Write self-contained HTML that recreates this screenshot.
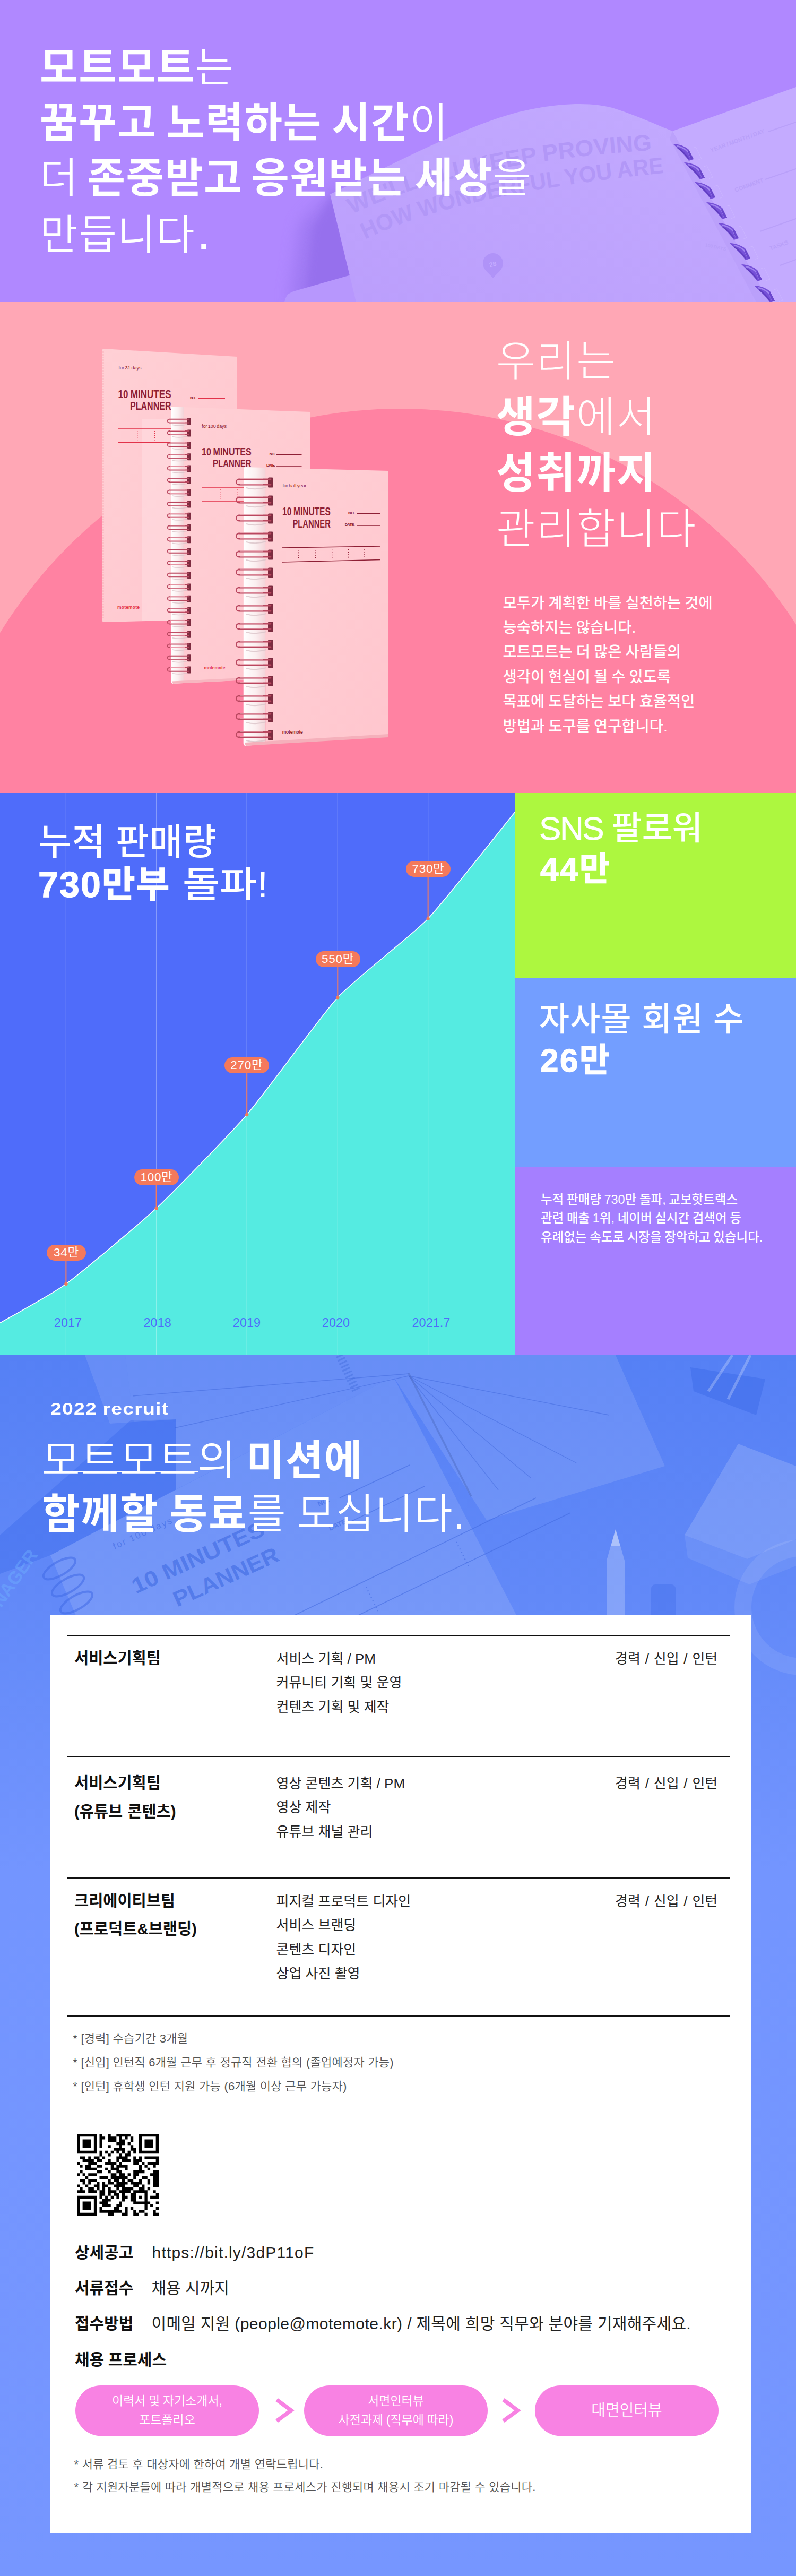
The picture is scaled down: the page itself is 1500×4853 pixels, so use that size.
<!DOCTYPE html>
<html lang="ko">
<head>
<meta charset="utf-8">
<title>모트모트 2022 recruit</title>
<style>
*{box-sizing:border-box;margin:0;padding:0}
html,body{width:1500px;height:4853px;overflow:hidden;background:#7896ff}
body{position:relative;font-family:"Liberation Sans","Noto Sans CJK KR",sans-serif;color:#fff;word-spacing:-0.054em}
.abs{position:absolute}
.sec{position:absolute;left:0;width:1500px;overflow:hidden}
#s1{top:0;height:569px;background:#b088ff}
#s2{top:569px;height:925px;background:#ffa7b5}
#s3{top:1494px;height:1059px;background:#4f6cfa}
#s4{top:2553px;height:2300px;background:linear-gradient(#5580f5,#6289f8 20%,#7395ff 42%,#7696ff)}
.sec svg.bg{position:absolute;left:0;top:0}
b{font-weight:700}
.l{font-weight:300}
.t{position:absolute;white-space:nowrap;line-height:1}
/* section 1 */
.h1{font-size:78px;left:75px;letter-spacing:1.5px;word-spacing:-4.2px}
.h1 .l{font-weight:350}
/* section 2 */
.h2{font-size:80px;left:935px;letter-spacing:2px}
.p2{font-size:28.5px;left:947.5px;font-weight:500}
/* section 3 */
.h3{font-size:68px;left:72px;font-weight:500}
.hv{-webkit-text-stroke:1.3px #fff}
.h3r{font-size:62px;left:1016px;font-weight:500}
.p3{font-size:23.5px;left:1019px;font-weight:500}
.pill{position:absolute;height:30px;border-radius:15px;background:#f4795b;color:#fff;font-size:22.5px;line-height:30px;text-align:center;white-space:nowrap;letter-spacing:.7px}
.yr{position:absolute;width:100px;text-align:center;font-size:23.5px;line-height:28px;color:#4f6cfa;white-space:nowrap}
.rc{font-size:32px;font-weight:700;letter-spacing:1px;transform-origin:0 50%;transform:scaleX(1.17)}
.h4{font-size:78px;left:79px;letter-spacing:1.5px;word-spacing:-4.2px}
.h4 .l{font-weight:350}
.ul{border-bottom:3px solid #fff;padding-bottom:0}
.card{position:absolute;background:#fff}
.rule{position:absolute;left:126px;width:1249px;height:2px;background:#111}
.c1{font-size:29.5px;font-weight:700;color:#111;word-spacing:1px}
.c2{font-size:26px;font-weight:400;color:#222;word-spacing:0}
.nt{font-size:22px;font-weight:350;color:#555;word-spacing:0;letter-spacing:.25px}
.lb{font-size:30px;font-weight:700;color:#111}
.vl{font-size:30px;font-weight:400;color:#222;word-spacing:0}
.pp{position:absolute;width:346px;height:95px;border-radius:48px;background:#f882e3;color:#fff;font-size:23px;font-weight:350;line-height:35.5px;text-align:center;display:flex;align-items:center;justify-content:center}
.pp.big{font-size:29px}
</style>
</head>
<body>
<!-- ============ SECTION 1 ============ -->
<div class="sec" id="s1">
<!--S1BG-->
<svg class="bg" width="1500" height="569" viewBox="0 0 1500 569">
<defs>
<linearGradient id="s1pg" x1="0" y1="1" x2="1" y2="0"><stop offset="0" stop-color="#bb9efc"/><stop offset="1" stop-color="#c3abff"/></linearGradient>
<linearGradient id="s1sh" x1="0" y1="0" x2="1" y2="0"><stop offset="0" stop-color="#9a74ef" stop-opacity="0"/><stop offset="1" stop-color="#9a74ef" stop-opacity=".95"/></linearGradient>
<filter id="s1bl2" x="-20%" y="-20%" width="140%" height="140%"><feGaussianBlur stdDeviation="7"/></filter>
<filter id="s1bl" x="-20%" y="-20%" width="140%" height="140%"><feGaussianBlur stdDeviation="14"/></filter>
<g id="ring"><path d="M-20 -16 C-9 -16 4 -11 10 -5 L19 13 L10 16 C4 7 -8 -5 -20 -16Z" fill="#7650d8"/><path d="M-12 -12 C-3 -10 5 -5 9 0 L14 11" stroke="#a285f0" stroke-width="2.4" fill="none"/><path d="M-11 -8.5 C-3 -3 4 4 10 12.5" stroke="#5f3dbe" stroke-width="2.2" fill="none"/><path d="M10 -5 L19 13 L14 13 L8 -1Z" fill="#6a46cc"/><path d="M17 -8 L23 -10 L34 12 L27 14.5" stroke="#cdb8ff" stroke-width="1" fill="none" opacity=".8"/></g>
</defs>
<!-- shadow left of book -->
<path d="M545 569 L565 420 L640 345 L700 569Z" fill="#9a74ef" filter="url(#s1bl)" opacity=".75"/>
<path d="M575 569 L590 430 L630 362 L690 569Z" fill="#946eec" filter="url(#s1bl2)" opacity=".8"/>
<!-- lower pages strip -->
<path d="M536 569 L538 562 Q541 552 556 548 L668 516 L682 569Z" fill="#b797fd"/>
<!-- left page -->
<path d="M622 366 C760 300 900 225 1000 206 C1060 194 1120 192 1160 205 C1200 218 1240 236 1267 247 L1450 569 L671 569Z" fill="url(#s1pg)"/>
<!-- right page -->
<path d="M1267 247 L1500 164 L1500 569 L1450 569Z" fill="#c4abff"/>
<path d="M1267 247 L1450 569 L1425 569 L1262 262Z" fill="#b79cf8" opacity=".6"/>
<!-- printed lines on right page -->
<g stroke="#b9a0f9" stroke-width="2" fill="none"><path d="M1448 248 L1500 230"/><path d="M1442 338 L1500 318"/><path d="M1432 436 L1500 412"/><path d="M1470 500 L1500 489"/></g>
<g font-family="Liberation Sans, sans-serif" font-weight="700" fill="#b9a0f9" font-size="11">
<text transform="translate(1340 287) rotate(-20)">YEAR / MONTH / DAY</text>
<text transform="translate(1386 362) rotate(-20)">COMMENT</text>
<text transform="translate(1452 472) rotate(-20)">TASKS</text>
<text transform="translate(1328 464) rotate(12)" font-size="9">100 DAYS</text>
</g>
<!-- printed slogan -->
<path id="sl1" d="M663 404 Q856 307.6 1228 283" fill="none"/><path id="sl2" d="M688 451 Q860 365 1251 326" fill="none"/>
<g font-family="Liberation Sans, sans-serif" font-weight="700" fill="#b297f7" font-size="43">
<text><textPath href="#sl1" textLength="582" lengthAdjust="spacingAndGlyphs">WE'LL ALL KEEP PROVING</textPath></text>
<text><textPath href="#sl2" textLength="580" lengthAdjust="spacingAndGlyphs">HOW WONDERFUL YOU ARE</textPath></text>
</g>
<!-- pin -->
<g transform="translate(929 500)"><path d="M0 24 C-8 14 -19 8 -19 -4 A19 19 0 1 1 19 -4 C19 8 8 14 0 24Z" fill="#b093f8"/><text x="0" y="2" text-anchor="middle" font-family="Liberation Sans, sans-serif" font-weight="700" font-size="12" fill="#c4abff" transform="rotate(-12)">28</text></g>
<!-- rings -->
<use href="#ring" x="1288" y="287"/><use href="#ring" x="1309" y="322"/><use href="#ring" x="1329" y="359"/><use href="#ring" x="1351" y="397"/><use href="#ring" x="1373" y="436"/><use href="#ring" x="1395" y="474"/><use href="#ring" x="1417" y="514"/><use href="#ring" x="1441" y="554"/>
</svg>

<!--/S1BG-->
<div class="t h1" style="top:89px"><b style="border-bottom:0">모트모트</b><span class="l">는</span></div>
<div class="t h1" style="top:193px"><b>꿈꾸고 노력하는 시간</b><span class="l">이</span></div>
<div class="t h1" style="top:297px;word-spacing:-7.3px"><span class="l">더 </span><b>존중받고 응원받는 세상</b><span class="l">을</span></div>
<div class="t h1" style="top:404px"><span class="l">만듭니다<span style="font-size:1.3em;line-height:0;margin-left:2px">.</span></span></div>
</div>

<!-- ============ SECTION 2 ============ -->
<div class="sec" id="s2">
<!--S2BG-->
<svg class="bg" width="1500" height="925" viewBox="0 0 1500 925">
<defs>
<linearGradient id="cv" x1="0" y1="0" x2="1" y2="1"><stop offset="0" stop-color="#ffd0d5"/><stop offset="1" stop-color="#ffc6ce"/></linearGradient>
<linearGradient id="wh" x1="0" y1="0" x2="1" y2="0"><stop offset="0" stop-color="#fff"/><stop offset=".55" stop-color="#fbeff0"/><stop offset="1" stop-color="#f3d3d8"/></linearGradient>
<g id="rg2"><rect x="37" y="-6.5" width="6.5" height="13" rx="1" fill="#7d2c40"/><path d="M3 -4 H40 M3 2.6 H40" stroke="#b9475f" stroke-width="2" stroke-linecap="round" fill="none"/><path d="M3 -4 A3.3 3.3 0 0 0 3 2.6" stroke="#b9475f" stroke-width="1.6" fill="none"/><path d="M5 -4.6 H32 M5 2 H32" stroke="#f6b3bf" stroke-width=".8" fill="none"/><path d="M8 6.5 Q22 9.5 36 6" stroke="#d9c3c8" stroke-width="1.5" fill="none" opacity=".8"/></g>
<g id="rg3"><rect x="59" y="-9.5" width="9.5" height="19" rx="1.5" fill="#7d2c40"/><path d="M4 -6 H64 M4 4 H64" stroke="#b9475f" stroke-width="2.8" stroke-linecap="round" fill="none"/><path d="M4 -6 A5 5 0 0 0 4 4" stroke="#b9475f" stroke-width="2.2" fill="none"/><path d="M7 -7 H50 M7 3 H50" stroke="#f8bcc7" stroke-width="1" fill="none"/><path d="M18 10 Q36 15 56 9" stroke="#d9c3c8" stroke-width="2" fill="none" opacity=".8"/></g>
</defs>
<circle cx="755" cy="1087" r="886" fill="#ff82a2"/>
<path d="M194.6 88 L447 103 L447 597 L196 603 Q192.6 603 192.6 599 L192.6 90 Z" fill="url(#cv)"/>
<path d="M194.5 93 V597" stroke="#e2324a" stroke-width="1.2" stroke-dasharray="3 2" fill="none"/>
<rect x="268" y="221" width="60" height="380" fill="#ffdfe3" opacity=".5"/>
<g fill="#8e1f35" font-family="Liberation Sans, sans-serif" font-weight="700">
<text x="223.5" y="126.5" font-size="9" font-weight="400" textLength="43">for 31 days</text>
<text x="222.6" y="181" font-size="22" textLength="100" lengthAdjust="spacingAndGlyphs">10 MINUTES</text>
<text x="245" y="202.5" font-size="22" textLength="77.6" lengthAdjust="spacingAndGlyphs">PLANNER</text>
<text x="358" y="182.5" font-size="7.5" textLength="11">NO.</text>
<text x="221" y="578" font-size="8.5" fill="#e2324a" textLength="42">motemote</text>
</g>
<g stroke="#e2324a" stroke-width="1.3" fill="none"><path d="M373 181.5 H424"/><path d="M222.6 239 H330 M222.6 264.5 H330"/><path d="M258.7 243 V261 M291.5 243 V261" stroke-dasharray="1.5 2.5"/></g>
<path d="M322.6 197 L346 198 L346 718 L326 719 Q322.6 719 322.6 715 Z" fill="url(#wh)"/>
<path d="M346 198 L584 207 L584 706 L346 718 Z" fill="url(#cv)"/>
<path d="M326 719 L584 706 L584 702 L324 714.5 Z" fill="#f7b6c0"/>
<g fill="#8e1f35" font-family="Liberation Sans, sans-serif" font-weight="700">
<text x="380" y="237" font-size="9" font-weight="400" textLength="47">for 100 days</text>
<text x="380" y="289" font-size="21" textLength="93.6" lengthAdjust="spacingAndGlyphs">10 MINUTES</text>
<text x="401" y="311" font-size="21" textLength="72.6" lengthAdjust="spacingAndGlyphs">PLANNER</text>
<text x="507.5" y="288.5" font-size="7.5" textLength="11">NO.</text>
<text x="502" y="310" font-size="7.5" textLength="16.5">DATE.</text>
<text x="384.5" y="691.5" font-size="8.5" fill="#e2324a" textLength="40">motemote</text>
</g>
<g stroke="#8e1f35" stroke-width="1.4" fill="none"><path d="M521 287.5 H568.5 M521 309 H568.5"/></g>
<g stroke="#e2324a" stroke-width="1.3" fill="none"><path d="M380 349 H470 M380 376 H470"/><path d="M415 353 V372 M447 353 V372" stroke-dasharray="1.5 2.5"/></g>
<use href="#rg2" x="316" y="224.8"/>
<use href="#rg2" x="316" y="247.1"/>
<use href="#rg2" x="316" y="269.4"/>
<use href="#rg2" x="316" y="291.7"/>
<use href="#rg2" x="316" y="314.0"/>
<use href="#rg2" x="316" y="336.3"/>
<use href="#rg2" x="316" y="358.6"/>
<use href="#rg2" x="316" y="380.9"/>
<use href="#rg2" x="316" y="403.2"/>
<use href="#rg2" x="316" y="425.5"/>
<use href="#rg2" x="316" y="447.8"/>
<use href="#rg2" x="316" y="470.1"/>
<use href="#rg2" x="316" y="492.4"/>
<use href="#rg2" x="316" y="514.7"/>
<use href="#rg2" x="316" y="537.0"/>
<use href="#rg2" x="316" y="559.3"/>
<use href="#rg2" x="316" y="581.6"/>
<use href="#rg2" x="316" y="603.9"/>
<use href="#rg2" x="316" y="626.2"/>
<use href="#rg2" x="316" y="648.5"/>
<use href="#rg2" x="316" y="670.8"/>
<use href="#rg2" x="316" y="693.1"/>
<path d="M461 311 L500.5 312 L500.5 833 L463 836 Q458.7 836 458.7 831 L459 313 Z" fill="url(#wh)"/>
<path d="M500.5 312 L731.8 318 L731.5 815 L500.5 829 Z" fill="url(#cv)"/>
<path d="M463 836 L731.5 820 L731.5 814 L461 830 Z" fill="#f5b0bb"/>
<g fill="#8e1f35" font-family="Liberation Sans, sans-serif" font-weight="700">
<text x="532.4" y="349" font-size="9.5" font-weight="400" textLength="45">for half year</text>
<text x="532" y="401.7" font-size="21.4" textLength="90.8" lengthAdjust="spacingAndGlyphs">10 MINUTES</text>
<text x="551.5" y="424.5" font-size="21.4" textLength="71.3" lengthAdjust="spacingAndGlyphs">PLANNER</text>
<text x="656" y="399.8" font-size="7.5" textLength="13">NO.</text>
<text x="649.7" y="422.2" font-size="7.5" textLength="19">DATE.</text>
<text x="531.8" y="812.5" font-size="8.5" textLength="39">motemote</text>
</g>
<g stroke="#8e1f35" stroke-width="1.4" fill="none"><path d="M672.5 398.8 H717 M672.5 421 H717"/><path d="M531.6 463 L717 460 M531.6 490 L717 485.5"/>
<path d="M562.7 467 V485 M594.6 467 V484.5 M625.7 466.5 V484 M656.4 466 V483.5 M687 465.5 V483" stroke-dasharray="1.6 3"/></g>
<use href="#rg3" x="446" y="340"/>
<use href="#rg3" x="446" y="374"/>
<use href="#rg3" x="446" y="408"/>
<use href="#rg3" x="446" y="442"/>
<use href="#rg3" x="446" y="476"/>
<use href="#rg3" x="446" y="510"/>
<use href="#rg3" x="446" y="544"/>
<use href="#rg3" x="446" y="578"/>
<use href="#rg3" x="446" y="612"/>
<use href="#rg3" x="446" y="646"/>
<use href="#rg3" x="446" y="680"/>
<use href="#rg3" x="446" y="714"/>
<use href="#rg3" x="446" y="748"/>
<use href="#rg3" x="446" y="782"/>
<use href="#rg3" x="446" y="816"/>
</svg>
<!--/S2BG-->
<div class="t h2 l" style="top:71.5px">우리는</div>
<div class="t h2" style="top:176.5px"><b>생각</b><span class="l">에서</span></div>
<div class="t h2" style="top:283px"><b>성취까지</b></div>
<div class="t h2 l" style="top:387.7px">관리합니다</div>
<div class="t p2" style="top:552.5px">모두가 계획한 바를 실천하는 것에</div>
<div class="t p2" style="top:598.9px">능숙하지는 않습니다.</div>
<div class="t p2" style="top:645.3px">모트모트는 더 많은 사람들의</div>
<div class="t p2" style="top:691.7px">생각이 현실이 될 수 있도록</div>
<div class="t p2" style="top:738.1px">목표에 도달하는 보다 효율적인</div>
<div class="t p2" style="top:784.5px">방법과 도구를 연구합니다.</div>
</div>

<!-- ============ SECTION 3 ============ -->
<div class="sec" id="s3">
<!--S3BG-->
<svg class="bg" width="1500" height="1059" viewBox="0 0 1500 1059">
<path d="M0.0 998.3 C11.2 991.7 97.9 944.2 124.4 924.8 C150.9 905.4 263.9 811.0 294.6 782.3 C325.3 753.6 434.4 641.7 465.2 606.0 C496.0 570.3 605.6 418.4 636.3 385.2 C667.0 352.0 776.5 268.1 806.6 236.7 C836.7 205.3 955.5 54.1 970.2 36.0 L970.2 1059 L0 1059 Z" fill="#55ebe1"/>
<path d="M0.0 998.3 C11.2 991.7 97.9 944.2 124.4 924.8 C150.9 905.4 263.9 811.0 294.6 782.3 C325.3 753.6 434.4 641.7 465.2 606.0 C496.0 570.3 605.6 418.4 636.3 385.2 C667.0 352.0 776.5 268.1 806.6 236.7 C836.7 205.3 955.5 54.1 970.2 36.0" fill="none" stroke="#fff" stroke-width="1.6"/>
<rect x="970" y="0" width="530" height="349" fill="#adf73f"/>
<rect x="970" y="349" width="530" height="355" fill="#739eff"/>
<rect x="970" y="704" width="530" height="355" fill="#a57fff"/>
<g stroke="#fff" stroke-opacity=".32" stroke-width="1.2"><path d="M124.4 0V1059"/><path d="M294.6 0V1059"/><path d="M465.2 0V1059"/><path d="M636.3 0V1059"/><path d="M806.6 0V1059"/></g>
<g stroke="#f4795b" stroke-width="2" fill="#f4795b">
<path d="M124.4 876.0V924.8"/><circle cx="124.4" cy="924.8" r="3.2" stroke="none"/>
<path d="M294.6 733.5V782.3"/><circle cx="294.6" cy="782.3" r="3.2" stroke="none"/>
<path d="M465.2 522.5V606.0"/><circle cx="465.2" cy="606.0" r="3.2" stroke="none"/>
<path d="M636.3 322.8V385.2"/><circle cx="636.3" cy="385.2" r="3.2" stroke="none"/>
<path d="M806.6 153.0V236.7"/><circle cx="806.6" cy="236.7" r="3.2" stroke="none"/>
</g>
</svg>
<div class="pill" style="left:88.0px;top:851.0px;width:74px">34만</div>
<div class="pill" style="left:253.0px;top:708.5px;width:84px">100만</div>
<div class="pill" style="left:422.8px;top:497.5px;width:84px">270만</div>
<div class="pill" style="left:594.6px;top:297.8px;width:84px">550만</div>
<div class="pill" style="left:765.0px;top:128.0px;width:84px">730만</div>
<div class="yr" style="left:78.0px;top:984px">2017</div>
<div class="yr" style="left:246.7px;top:984px">2018</div>
<div class="yr" style="left:415.0px;top:984px">2019</div>
<div class="yr" style="left:583.0px;top:984px">2020</div>
<div class="yr" style="left:762.5px;top:984px">2021.7</div>
<!--/S3BG-->
<div class="t h3" style="top:58px;letter-spacing:1px">누적 판매량</div>
<div class="t h3" style="top:138px;word-spacing:4px"><b class="hv" style="letter-spacing:2.2px">730만부</b> <span style="display:inline-block;transform:scaleX(1.12);transform-origin:0 50%">돌파!</span></div>
<div class="t h3r" style="top:36px"><span style="letter-spacing:-2.4px;-webkit-text-stroke:.7px #fff">SNS</span> 팔로워</div>
<div class="t h3r" style="top:113px;left:1018px"><b class="hv" style="letter-spacing:2.5px">44만</b></div>
<div class="t h3r" style="top:396px;letter-spacing:1.2px;word-spacing:0px">자사몰 회원 수</div>
<div class="t h3r" style="top:473px;left:1018px"><b class="hv" style="letter-spacing:2.5px">26만</b></div>
<div class="t p3" style="top:754.5px">누적 판매량 730만 돌파, 교보핫트랙스</div>
<div class="t p3" style="top:790px">관련 매출 1위, 네이버 실시간 검색어 등</div>
<div class="t p3" style="top:825.5px">유례없는 속도로 시장을 장악하고 있습니다.</div>
</div>

<!-- ============ SECTION 4 ============ -->
<div class="sec" id="s4">
<!--S4BG-->
<svg class="bg" width="1500" height="2300" viewBox="0 0 1500 2300">
<defs><filter id="b4" x="-10%" y="-10%" width="120%" height="120%"><feGaussianBlur stdDeviation="2"/></filter></defs>
<polygon points="160,0 236,0 252,126 207,129" fill="#fff" opacity=".10"/>
<polygon points="246,123 332,121 332,253 95,377 0,412 0,339" fill="#2f5fe8" opacity=".30"/>
<polygon points="95,377 741,40 982,507 150,507" fill="#fff" opacity=".12"/>
<polygon points="236,0 1160,0 1253,209 917,311 741,40 332,253 332,121 252,126" fill="#fff" opacity=".11"/>
<g stroke="#3a62d8" stroke-opacity=".45" stroke-width="1.3" fill="none">
<path d="M770 39L1148 113"/>
<path d="M770 39L1086 203"/>
<path d="M770 39L1001 232"/>
<path d="M770 39L939 254"/>
<path d="M770 39L330 137"/>
<path d="M770 35L250 77"/>
</g>
<path d="M770 34 L888 266" stroke="#5070c8" stroke-opacity=".55" stroke-width="3.5"/>
<path d="M640 0 L672 69" stroke="#456fe0" stroke-opacity=".5" stroke-width="16" stroke-dasharray="3 4"/>
<g stroke="#3f68de" stroke-opacity=".55" stroke-width="1.6" fill="none">
<path d="M640 269L772 207"/>
<path d="M662 313L800 247"/>
<path d="M520 507L1010 269"/>
<path d="M640 507L1075 297"/>
<path d="M690 437L712 482 M860 352L885 402" stroke-dasharray="2 5" stroke-width="2.4"/>
</g>
<g font-family="Liberation Sans, sans-serif" font-weight="700" fill="#3e69e2" fill-opacity=".62">
<text transform="translate(256 450) rotate(-24.5)" font-size="41" textLength="270" lengthAdjust="spacingAndGlyphs">10 MINUTES</text>
<text transform="translate(334 475) rotate(-24.5)" font-size="41" textLength="214" lengthAdjust="spacingAndGlyphs">PLANNER</text>
<text transform="translate(216 366) rotate(-24.5)" font-size="17" font-weight="400" textLength="120">for 100 days</text>
<text transform="translate(601 285) rotate(-24.5)" font-size="13">NO.</text>
<text transform="translate(622 331) rotate(-24.5)" font-size="13">DATE.</text>
</g>
<g stroke="#3f6ae6" stroke-opacity=".55" stroke-width="4" fill="none">
<ellipse cx="112" cy="402" rx="34" ry="13" transform="rotate(-30 112 402)"/>
<ellipse cx="128" cy="434" rx="34" ry="13" transform="rotate(-30 128 434)"/>
<ellipse cx="144" cy="466" rx="34" ry="13" transform="rotate(-30 144 466)"/>
</g>
<text transform="translate(2 477) rotate(-55)" font-family="Liberation Sans, sans-serif" font-weight="700" font-size="34" fill="#6fb0ff" fill-opacity=".45">NAGER</text>
<polygon points="1301,23 1442,45 1425,113 1307,68" fill="#3464e6" opacity=".38"/>
<path d="M1335 68L1380 0 M1372 83L1414 0" stroke="#fff" stroke-opacity=".25" stroke-width="5" fill="none"/>
<polygon points="1391,167 1500,209 1500,347 1408,384 1290,339" fill="#fff" opacity=".16"/>
<polygon points="1290,339 1408,384 1500,347 1500,397 1412,432 1296,382" fill="#fff" opacity=".08"/>
<polygon points="1160,328 1177,387 1177,497 1143,497 1143,387" fill="#fff" opacity=".22"/>
<polygon points="1160,328 1169,360 1151,360" fill="#fff" opacity=".35"/>
<rect x="1227" y="432" width="46" height="70" rx="8" fill="#3464e6" opacity=".30"/>
<circle cx="1512" cy="475" r="112" fill="none" stroke="#fff" stroke-opacity=".09" stroke-width="32"/>
</svg>
<!--/S4BG-->
<!--S4TEXT-->
<div class="t rc" style="left:95px;top:85.0px">2022 recruit</div>
<div class="t h4" style="top:160.0px"><span class="l">모트모트의 </span><b>미션에</b></div>
<div class="abs" style="left:82px;top:218px;width:292px;height:3.4px;background:#fff"></div>
<div class="t h4" style="letter-spacing:1.9px;top:261.0px"><b>함께할 동료</b><span class="l">를 모십니다.</span></div>
<div class="card" style="left:94px;top:490px;width:1322px;height:1729px"></div>
<div class="rule" style="top:528.0px"></div>
<div class="rule" style="top:756.0px"></div>
<div class="rule" style="top:983.5px"></div>
<div class="rule" style="top:1243.5px"></div>
<div class="t c1" style="left:140px;top:556.4px;">서비스기획팀</div>
<div class="t c2" style="left:520.5px;top:559.1px;">서비스 기획 / PM</div>
<div class="t c2" style="left:520.5px;top:604.3px;">커뮤니티 기획 및 운영</div>
<div class="t c2" style="left:520.5px;top:649.5px;">컨텐츠 기획 및 제작</div>
<div class="t c2" style="left:1159px;top:559.1px;word-spacing:1.6px">경력 / 신입 / 인턴</div>
<div class="t c1" style="left:140px;top:790.9px;">서비스기획팀</div>
<div class="t c1" style="left:140px;top:845.1px;">(유튜브 콘텐츠)</div>
<div class="t c2" style="left:520.5px;top:794.1px;">영상 콘텐츠 기획 / PM</div>
<div class="t c2" style="left:520.5px;top:839.3px;">영상 제작</div>
<div class="t c2" style="left:520.5px;top:884.5px;">유튜브 채널 관리</div>
<div class="t c2" style="left:1159px;top:794.1px;word-spacing:1.6px">경력 / 신입 / 인턴</div>
<div class="t c1" style="left:140px;top:1013.4px;">크리에이티브팀</div>
<div class="t c1" style="left:140px;top:1066.1px;">(프로덕트&amp;브랜딩)</div>
<div class="t c2" style="left:520.5px;top:1016.1px;">피지컬 프로덕트 디자인</div>
<div class="t c2" style="left:520.5px;top:1061.4px;">서비스 브랜딩</div>
<div class="t c2" style="left:520.5px;top:1106.7px;">콘텐츠 디자인</div>
<div class="t c2" style="left:520.5px;top:1152.0px;">상업 사진 촬영</div>
<div class="t c2" style="left:1159px;top:1016.1px;word-spacing:1.6px">경력 / 신입 / 인턴</div>
<div class="t nt" style="left:137.3px;top:1276.6px;">* [경력] 수습기간 3개월</div>
<div class="t nt" style="left:137.3px;top:1321.9px;">* [신입] 인턴직 6개월 근무 후 정규직 전환 협의 (졸업예정자 가능)</div>
<div class="t nt" style="left:137.3px;top:1367.2px;">* [인턴] 휴학생 인턴 지원 가능 (6개월 이상 근무 가능자)</div>
<svg class="abs" style="left:144.5px;top:1466.5px" width="154" height="154" viewBox="0 0 154 154"><path d="M0.00 0.00h37.17v5.31h-37.17zM42.48 0.00h5.31v5.31h-5.31zM58.41 0.00h5.31v5.31h-5.31zM74.34 0.00h26.55v5.31h-26.55zM116.83 0.00h37.17v5.31h-37.17zM0.00 5.31h5.31v5.31h-5.31zM31.86 5.31h5.31v5.31h-5.31zM42.48 5.31h10.62v5.31h-10.62zM58.41 5.31h15.93v5.31h-15.93zM79.66 5.31h5.31v5.31h-5.31zM90.28 5.31h5.31v5.31h-5.31zM100.90 5.31h5.31v5.31h-5.31zM116.83 5.31h5.31v5.31h-5.31zM148.69 5.31h5.31v5.31h-5.31zM0.00 10.62h5.31v5.31h-5.31zM10.62 10.62h15.93v5.31h-15.93zM31.86 10.62h5.31v5.31h-5.31zM42.48 10.62h5.31v5.31h-5.31zM58.41 10.62h15.93v5.31h-15.93zM79.66 10.62h10.62v5.31h-10.62zM100.90 10.62h5.31v5.31h-5.31zM116.83 10.62h5.31v5.31h-5.31zM127.45 10.62h15.93v5.31h-15.93zM148.69 10.62h5.31v5.31h-5.31zM0.00 15.93h5.31v5.31h-5.31zM10.62 15.93h15.93v5.31h-15.93zM31.86 15.93h5.31v5.31h-5.31zM42.48 15.93h5.31v5.31h-5.31zM74.34 15.93h15.93v5.31h-15.93zM95.59 15.93h5.31v5.31h-5.31zM116.83 15.93h5.31v5.31h-5.31zM127.45 15.93h15.93v5.31h-15.93zM148.69 15.93h5.31v5.31h-5.31zM0.00 21.24h5.31v5.31h-5.31zM10.62 21.24h15.93v5.31h-15.93zM31.86 21.24h5.31v5.31h-5.31zM42.48 21.24h5.31v5.31h-5.31zM58.41 21.24h5.31v5.31h-5.31zM79.66 21.24h5.31v5.31h-5.31zM100.90 21.24h5.31v5.31h-5.31zM116.83 21.24h5.31v5.31h-5.31zM127.45 21.24h15.93v5.31h-15.93zM148.69 21.24h5.31v5.31h-5.31zM0.00 26.55h5.31v5.31h-5.31zM31.86 26.55h5.31v5.31h-5.31zM69.03 26.55h21.24v5.31h-21.24zM100.90 26.55h10.62v5.31h-10.62zM116.83 26.55h5.31v5.31h-5.31zM148.69 26.55h5.31v5.31h-5.31zM0.00 31.86h37.17v5.31h-37.17zM42.48 31.86h5.31v5.31h-5.31zM53.10 31.86h5.31v5.31h-5.31zM63.72 31.86h5.31v5.31h-5.31zM74.34 31.86h5.31v5.31h-5.31zM84.97 31.86h5.31v5.31h-5.31zM95.59 31.86h5.31v5.31h-5.31zM106.21 31.86h5.31v5.31h-5.31zM116.83 31.86h37.17v5.31h-37.17zM42.48 37.17h5.31v5.31h-5.31zM58.41 37.17h5.31v5.31h-5.31zM79.66 37.17h5.31v5.31h-5.31zM90.28 37.17h10.62v5.31h-10.62zM5.31 42.48h10.62v5.31h-10.62zM21.24 42.48h5.31v5.31h-5.31zM31.86 42.48h10.62v5.31h-10.62zM47.79 42.48h5.31v5.31h-5.31zM74.34 42.48h21.24v5.31h-21.24zM106.21 42.48h5.31v5.31h-5.31zM116.83 42.48h5.31v5.31h-5.31zM127.45 42.48h26.55v5.31h-26.55zM10.62 47.79h21.24v5.31h-21.24zM37.17 47.79h10.62v5.31h-10.62zM58.41 47.79h5.31v5.31h-5.31zM74.34 47.79h5.31v5.31h-5.31zM84.97 47.79h15.93v5.31h-15.93zM106.21 47.79h15.93v5.31h-15.93zM148.69 47.79h5.31v5.31h-5.31zM0.00 53.10h5.31v5.31h-5.31zM21.24 53.10h15.93v5.31h-15.93zM53.10 53.10h21.24v5.31h-21.24zM79.66 53.10h5.31v5.31h-5.31zM106.21 53.10h10.62v5.31h-10.62zM122.14 53.10h5.31v5.31h-5.31zM132.76 53.10h21.24v5.31h-21.24zM5.31 58.41h5.31v5.31h-5.31zM15.93 58.41h10.62v5.31h-10.62zM37.17 58.41h10.62v5.31h-10.62zM63.72 58.41h5.31v5.31h-5.31zM74.34 58.41h21.24v5.31h-21.24zM116.83 58.41h5.31v5.31h-5.31zM127.45 58.41h5.31v5.31h-5.31zM143.38 58.41h5.31v5.31h-5.31zM15.93 63.72h21.24v5.31h-21.24zM53.10 63.72h5.31v5.31h-5.31zM63.72 63.72h15.93v5.31h-15.93zM90.28 63.72h5.31v5.31h-5.31zM116.83 63.72h5.31v5.31h-5.31zM132.76 63.72h5.31v5.31h-5.31zM5.31 69.03h5.31v5.31h-5.31zM37.17 69.03h10.62v5.31h-10.62zM58.41 69.03h5.31v5.31h-5.31zM74.34 69.03h10.62v5.31h-10.62zM106.21 69.03h21.24v5.31h-21.24zM143.38 69.03h10.62v5.31h-10.62zM0.00 74.34h5.31v5.31h-5.31zM10.62 74.34h5.31v5.31h-5.31zM21.24 74.34h15.93v5.31h-15.93zM63.72 74.34h10.62v5.31h-10.62zM79.66 74.34h10.62v5.31h-10.62zM95.59 74.34h5.31v5.31h-5.31zM106.21 74.34h10.62v5.31h-10.62zM138.07 74.34h15.93v5.31h-15.93zM15.93 79.66h5.31v5.31h-5.31zM42.48 79.66h15.93v5.31h-15.93zM63.72 79.66h31.86v5.31h-31.86zM106.21 79.66h5.31v5.31h-5.31zM122.14 79.66h10.62v5.31h-10.62zM143.38 79.66h10.62v5.31h-10.62zM5.31 84.97h10.62v5.31h-10.62zM21.24 84.97h15.93v5.31h-15.93zM58.41 84.97h5.31v5.31h-5.31zM69.03 84.97h10.62v5.31h-10.62zM84.97 84.97h5.31v5.31h-5.31zM95.59 84.97h10.62v5.31h-10.62zM116.83 84.97h5.31v5.31h-5.31zM132.76 84.97h5.31v5.31h-5.31zM143.38 84.97h10.62v5.31h-10.62zM10.62 90.28h5.31v5.31h-5.31zM21.24 90.28h5.31v5.31h-5.31zM37.17 90.28h5.31v5.31h-5.31zM47.79 90.28h5.31v5.31h-5.31zM58.41 90.28h10.62v5.31h-10.62zM74.34 90.28h21.24v5.31h-21.24zM100.90 90.28h21.24v5.31h-21.24zM132.76 90.28h5.31v5.31h-5.31zM143.38 90.28h10.62v5.31h-10.62zM0.00 95.59h5.31v5.31h-5.31zM15.93 95.59h5.31v5.31h-5.31zM31.86 95.59h10.62v5.31h-10.62zM47.79 95.59h10.62v5.31h-10.62zM69.03 95.59h21.24v5.31h-21.24zM106.21 95.59h10.62v5.31h-10.62zM122.14 95.59h5.31v5.31h-5.31zM143.38 95.59h10.62v5.31h-10.62zM5.31 100.90h5.31v5.31h-5.31zM21.24 100.90h10.62v5.31h-10.62zM37.17 100.90h5.31v5.31h-5.31zM47.79 100.90h5.31v5.31h-5.31zM58.41 100.90h5.31v5.31h-5.31zM74.34 100.90h5.31v5.31h-5.31zM84.97 100.90h21.24v5.31h-21.24zM116.83 100.90h10.62v5.31h-10.62zM132.76 100.90h5.31v5.31h-5.31zM0.00 106.21h15.93v5.31h-15.93zM21.24 106.21h15.93v5.31h-15.93zM42.48 106.21h10.62v5.31h-10.62zM58.41 106.21h15.93v5.31h-15.93zM79.66 106.21h21.24v5.31h-21.24zM106.21 106.21h26.55v5.31h-26.55zM143.38 106.21h5.31v5.31h-5.31zM42.48 111.52h10.62v5.31h-10.62zM58.41 111.52h5.31v5.31h-5.31zM69.03 111.52h10.62v5.31h-10.62zM84.97 111.52h5.31v5.31h-5.31zM100.90 111.52h10.62v5.31h-10.62zM127.45 111.52h5.31v5.31h-5.31zM148.69 111.52h5.31v5.31h-5.31zM0.00 116.83h37.17v5.31h-37.17zM42.48 116.83h5.31v5.31h-5.31zM53.10 116.83h5.31v5.31h-5.31zM63.72 116.83h5.31v5.31h-5.31zM74.34 116.83h5.31v5.31h-5.31zM84.97 116.83h10.62v5.31h-10.62zM100.90 116.83h10.62v5.31h-10.62zM116.83 116.83h5.31v5.31h-5.31zM127.45 116.83h5.31v5.31h-5.31zM138.07 116.83h15.93v5.31h-15.93zM0.00 122.14h5.31v5.31h-5.31zM31.86 122.14h5.31v5.31h-5.31zM47.79 122.14h15.93v5.31h-15.93zM84.97 122.14h5.31v5.31h-5.31zM100.90 122.14h10.62v5.31h-10.62zM127.45 122.14h5.31v5.31h-5.31zM0.00 127.45h5.31v5.31h-5.31zM10.62 127.45h15.93v5.31h-15.93zM31.86 127.45h5.31v5.31h-5.31zM42.48 127.45h15.93v5.31h-15.93zM79.66 127.45h5.31v5.31h-5.31zM106.21 127.45h31.86v5.31h-31.86zM148.69 127.45h5.31v5.31h-5.31zM0.00 132.76h5.31v5.31h-5.31zM10.62 132.76h15.93v5.31h-15.93zM31.86 132.76h5.31v5.31h-5.31zM47.79 132.76h15.93v5.31h-15.93zM74.34 132.76h10.62v5.31h-10.62zM127.45 132.76h5.31v5.31h-5.31zM138.07 132.76h5.31v5.31h-5.31zM0.00 138.07h5.31v5.31h-5.31zM10.62 138.07h15.93v5.31h-15.93zM31.86 138.07h5.31v5.31h-5.31zM42.48 138.07h5.31v5.31h-5.31zM69.03 138.07h10.62v5.31h-10.62zM90.28 138.07h5.31v5.31h-5.31zM100.90 138.07h5.31v5.31h-5.31zM127.45 138.07h5.31v5.31h-5.31zM148.69 138.07h5.31v5.31h-5.31zM0.00 143.38h5.31v5.31h-5.31zM31.86 143.38h5.31v5.31h-5.31zM42.48 143.38h42.48v5.31h-42.48zM90.28 143.38h5.31v5.31h-5.31zM106.21 143.38h5.31v5.31h-5.31zM116.83 143.38h10.62v5.31h-10.62zM143.38 143.38h5.31v5.31h-5.31zM0.00 148.69h37.17v5.31h-37.17zM58.41 148.69h10.62v5.31h-10.62zM84.97 148.69h10.62v5.31h-10.62zM106.21 148.69h10.62v5.31h-10.62zM127.45 148.69h5.31v5.31h-5.31zM143.38 148.69h10.62v5.31h-10.62z" fill="#000"/></svg>
<div class="t lb" style="left:141px;top:1675.5px;">상세공고</div>
<div class="t vl" style="left:286.5px;top:1675.5px;letter-spacing:1.2px">https://bit.ly/3dP11oF</div>
<div class="t lb" style="left:141px;top:1742.9px;">서류접수</div>
<div class="t vl" style="left:285.5px;top:1742.7px;">채용 시까지</div>
<div class="t lb" style="left:141px;top:1809.9px;">접수방법</div>
<div class="t vl" style="left:285.5px;top:1809.7px;letter-spacing:.3px">이메일 지원 <span style="letter-spacing:.45px">(people@motemote.kr)</span> / 제목에 희망 직무와 분야를 기재해주세요.</div>
<div class="t lb" style="left:141px;top:1877.9px;">채용 프로세스</div>
<div class="pp" style="left:142px;top:1941px"><span>이력서 및 자기소개서,<br>포트폴리오</span></div>
<div class="pp" style="left:573px;top:1941px"><span>서면인터뷰<br>사전과제 (직무에 따라)</span></div>
<div class="pp big" style="left:1008px;top:1941px"><span>대면인터뷰</span></div>
<svg class="abs" style="left:515px;top:1962px" width="44" height="52" viewBox="0 0 44 52"><path d="M6.5 6 L33.5 26 L6.5 46" fill="none" stroke="#f882e3" stroke-width="7.5" stroke-linejoin="miter"/></svg>
<svg class="abs" style="left:941.5px;top:1962px" width="44" height="52" viewBox="0 0 44 52"><path d="M6.5 6 L33.5 26 L6.5 46" fill="none" stroke="#f882e3" stroke-width="7.5" stroke-linejoin="miter"/></svg>
<div class="t nt" style="left:139.5px;top:2079.4px;">* 서류 검토 후 대상자에 한하여 개별 연락드립니다.</div>
<div class="t nt" style="left:139.5px;top:2122.4px;">* 각 지원자분들에 따라 개별적으로 채용 프로세스가 진행되며 채용시 조기 마감될 수 있습니다.</div>
<!--/S4TEXT-->
</div>
</body>
</html>
